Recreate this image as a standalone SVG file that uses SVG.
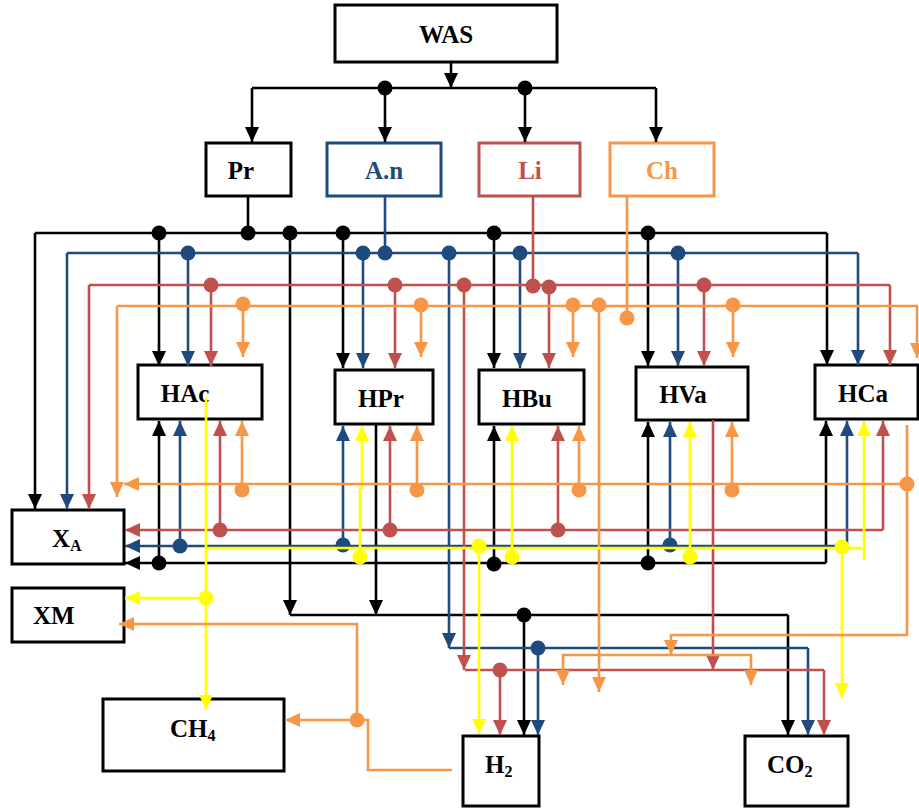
<svg xmlns="http://www.w3.org/2000/svg" width="919" height="808" viewBox="0 0 919 808">
  <defs>
    <style>
      .box { fill: #fff; stroke: #000; stroke-width: 3; }
      .lbl { font-family: "Liberation Serif", "Times New Roman", serif; font-weight: bold; font-size: 25px; fill: #000; }
      .c { text-anchor: middle; }
      .sub { font-size: 16px; }
      .ln { fill: none; stroke-width: 2.6; stroke-linejoin: miter; }
      .k { stroke: #000; }
      .b { stroke: #1F4A7E; }
      .r { stroke: #C0504D; }
      .o { stroke: #F79646; }
      .y { stroke: #FFFF00; }
      .k.a { marker-end: url(#ak); }
      .b.a { marker-end: url(#ab); }
      .r.a { marker-end: url(#ar); }
      .o.a { marker-end: url(#ao); }
      .y.a { marker-end: url(#ay); }
      .dk { fill: #000; }
      .db { fill: #1F4A7E; }
      .dr { fill: #C0504D; }
      .do { fill: #F79646; }
      .dy { fill: #FFFF00; }
    </style>
    <marker id="ak" markerUnits="userSpaceOnUse" markerWidth="15" markerHeight="14" refX="15" refY="7" orient="auto"><path d="M0,0 L15,7 L0,14 z" fill="#000"/></marker>
    <marker id="ab" markerUnits="userSpaceOnUse" markerWidth="15" markerHeight="14" refX="15" refY="7" orient="auto"><path d="M0,0 L15,7 L0,14 z" fill="#1F4A7E"/></marker>
    <marker id="ar" markerUnits="userSpaceOnUse" markerWidth="15" markerHeight="14" refX="15" refY="7" orient="auto"><path d="M0,0 L15,7 L0,14 z" fill="#C0504D"/></marker>
    <marker id="ao" markerUnits="userSpaceOnUse" markerWidth="15" markerHeight="14" refX="15" refY="7" orient="auto"><path d="M0,0 L15,7 L0,14 z" fill="#F79646"/></marker>
    <marker id="ay" markerUnits="userSpaceOnUse" markerWidth="15" markerHeight="14" refX="15" refY="7" orient="auto"><path d="M0,0 L15,7 L0,14 z" fill="#FFFF00"/></marker>
  </defs>

  <rect width="919" height="808" fill="#fff"/>

  <!-- boxes -->
  <g id="WAS"><rect class="box" x="335" y="5" width="222" height="57"/><text class="lbl c" x="446" y="43">WAS</text></g>
  <g id="Pr"><rect class="box" x="206" y="143" width="85" height="53"/><text class="lbl c" x="241" y="179">Pr</text></g>
  <g id="An"><rect class="box" x="327" y="143" width="114" height="53" style="stroke:#1F4A7E"/><text class="lbl c" x="384" y="179" style="fill:#1F4A7E">A.n</text></g>
  <g id="Li"><rect class="box" x="479" y="143" width="101" height="53" style="stroke:#C0504D"/><text class="lbl c" x="530" y="179" style="fill:#C0504D">Li</text></g>
  <g id="Ch"><rect class="box" x="610" y="143" width="104" height="53" style="stroke:#F79646"/><text class="lbl c" x="662" y="179" style="fill:#F79646">Ch</text></g>
  <g id="HAc"><rect class="box" x="138" y="365" width="124" height="54"/><text class="lbl c" x="185" y="402">HAc</text></g>
  <g id="HPr"><rect class="box" x="335" y="370" width="98" height="54"/><text class="lbl c" x="381" y="407">HPr</text></g>
  <g id="HBu"><rect class="box" x="479" y="370" width="105" height="54"/><text class="lbl c" x="527" y="407">HBu</text></g>
  <g id="HVa"><rect class="box" x="636" y="367" width="112" height="53"/><text class="lbl c" x="683" y="403">HVa</text></g>
  <g id="HCa"><rect class="box" x="815" y="365" width="103" height="54"/><text class="lbl c" x="863" y="402">HCa</text></g>
  <g id="XA"><rect class="box" x="12" y="510" width="112" height="54"/><text class="lbl" x="52" y="547">X<tspan class="sub" dy="4">A</tspan></text></g>
  <g id="XM"><rect class="box" x="12" y="588" width="112" height="54"/><text class="lbl" x="33" y="624">XM</text></g>
  <g id="CH4"><rect class="box" x="103" y="699" width="181" height="72"/><text class="lbl" x="170" y="737">CH<tspan class="sub" dy="4">4</tspan></text></g>
  <g id="H2"><rect class="box" x="463" y="736" width="76" height="70"/><text class="lbl" x="485" y="773">H<tspan class="sub" dy="4">2</tspan></text></g>
  <g id="CO2"><rect class="box" x="745" y="736" width="103" height="70"/><text class="lbl" x="767" y="773">CO<tspan class="sub" dy="4">2</tspan></text></g>

  <g id="connectors">
    <!-- black -->
    <path class="ln k a" d="M451,62 V88"/>
    <path class="ln k" d="M252,88 H656"/>
    <path class="ln k a" d="M252,88 V142"/>
    <path class="ln k a" d="M385,88 V142"/>
    <path class="ln k a" d="M525,88 V142"/>
    <path class="ln k a" d="M656,88 V142"/>
    <path class="ln k" d="M248,196 V233"/>
    <path class="ln k" d="M35,233 H827"/>
    <path class="ln k a" d="M35,233 V509"/>
    <path class="ln k a" d="M159,233 V366"/>
    <path class="ln k a" d="M343,233 V368"/>
    <path class="ln k a" d="M494,233 V368"/>
    <path class="ln k a" d="M648,233 V366"/>
    <path class="ln k a" d="M827,233 V365"/>
    <path class="ln k a" d="M290,233 V615"/>
    <path class="ln k a" d="M826,563 H125"/>
    <path class="ln k a" d="M826,563 V421"/>
    <path class="ln k a" d="M159,563 V421"/>
    <path class="ln k a" d="M494,563 V426"/>
    <path class="ln k a" d="M648,563 V422"/>
    <path class="ln k a" d="M376,424 V615"/>
    <path class="ln k" d="M290,615 H788"/>
    <path class="ln k a" d="M524,615 V735"/>
    <path class="ln k a" d="M788,615 V735"/>

    <!-- blue -->
    <path class="ln b" d="M385,196 V253"/>
    <path class="ln b" d="M67,253 H858"/>
    <path class="ln b a" d="M67,253 V509"/>
    <path class="ln b a" d="M188,253 V366"/>
    <path class="ln b a" d="M363,253 V368"/>
    <path class="ln b a" d="M449,253 V648"/>
    <path class="ln b a" d="M520,253 V368"/>
    <path class="ln b a" d="M678,253 V366"/>
    <path class="ln b a" d="M858,253 V365"/>
    <path class="ln b a" d="M847,546 H125"/>
    <path class="ln b a" d="M847,546 V421"/>
    <path class="ln b a" d="M180,546 V421"/>
    <path class="ln b a" d="M343,546 V426"/>
    <path class="ln b a" d="M670,546 V422"/>
    <path class="ln b" d="M449,648 H808"/>
    <path class="ln b a" d="M538,648 V735"/>
    <path class="ln b a" d="M808,648 V735"/>

    <!-- red -->
    <path class="ln r" d="M533,196 V286"/>
    <path class="ln r" d="M89,285 H890"/>
    <path class="ln r a" d="M89,285 V509"/>
    <path class="ln r a" d="M211,285 V366"/>
    <path class="ln r a" d="M395,285 V368"/>
    <path class="ln r a" d="M464,285 V670"/>
    <path class="ln r a" d="M549,285 V368"/>
    <path class="ln r a" d="M704,285 V366"/>
    <path class="ln r a" d="M890,285 V365"/>
    <path class="ln r a" d="M883,530 H125"/>
    <path class="ln r a" d="M883,530 V421"/>
    <path class="ln r a" d="M220,530 V421"/>
    <path class="ln r a" d="M390,530 V426"/>
    <path class="ln r a" d="M558,530 V426"/>
    <path class="ln r" d="M465,670 H824"/>
    <path class="ln r a" d="M500,670 V735"/>
    <path class="ln r a" d="M824,670 V735"/>
    <path class="ln r a" d="M713,420 V670"/>

    <!-- yellow -->
    <path class="ln y a" d="M206,398 V710"/>
    <path class="ln y a" d="M206,598 H125"/>
    <path class="ln y a" d="M360,557 V488 H362 V426"/>
    <path class="ln y a" d="M479,546 V734"/>
    <path class="ln y a" d="M512,557 V426"/>
    <path class="ln y a" d="M690,557 V422"/>
    <path class="ln y a" d="M842,547 V698"/>
    <path class="ln y a" d="M864,560 V421"/>

    <!-- orange -->
    <path class="ln o" d="M627,196 V318"/>
    <path class="ln o" d="M117,306 H918"/>
    <path class="ln o a" d="M117,306 V497"/>
    <path class="ln o a" d="M243,306 V357"/>
    <path class="ln o a" d="M421,306 V357"/>
    <path class="ln o a" d="M573,306 V357"/>
    <path class="ln o a" d="M599,306 V692"/>
    <path class="ln o a" d="M733,306 V357"/>
    <path class="ln o a" d="M917,306 V358"/>
    <path class="ln o a" d="M907,484 H124"/>
    <path class="ln o a" d="M242,490 V421"/>
    <path class="ln o a" d="M417,490 V426"/>
    <path class="ln o a" d="M579,490 V426"/>
    <path class="ln o a" d="M732,490 V422"/>
    <path class="ln o a" d="M907,425 V635 H671 V655"/>
    <path class="ln o a" d="M657,655 H563 V685"/>
    <path class="ln o a" d="M657,655 H751 V685"/>
    <path class="ln o" d="M452,770 H368 V720 H357"/>
    <path class="ln o a" d="M357,720 H285"/>
    <path class="ln o a" d="M357,720 V624 H119"/>

    <!-- junction dots -->
    <g class="dk">
      <circle cx="385" cy="88" r="7.5"/><circle cx="525" cy="88" r="7.5"/>
      <circle cx="159" cy="233" r="7.5"/><circle cx="248" cy="233" r="7.5"/><circle cx="290" cy="233" r="7.5"/>
      <circle cx="343" cy="233" r="7.5"/><circle cx="494" cy="233" r="7.5"/><circle cx="648" cy="233" r="7.5"/>
      <circle cx="159" cy="563" r="7.5"/><circle cx="494" cy="564" r="7.5"/><circle cx="648" cy="563" r="7.5"/>
      <circle cx="524" cy="615" r="7.5"/>
    </g>
    <g class="db">
      <circle cx="188" cy="253" r="7.5"/><circle cx="363" cy="253" r="7.5"/><circle cx="385" cy="253" r="7.5"/>
      <circle cx="449" cy="253" r="7.5"/><circle cx="520" cy="253" r="7.5"/><circle cx="678" cy="253" r="7.5"/>
      <circle cx="180" cy="546" r="7.5"/><circle cx="343" cy="545" r="7.5"/><circle cx="670" cy="545" r="7.5"/>
      <circle cx="538" cy="648" r="7.5"/>
    </g>
    <g class="dr">
      <circle cx="211" cy="285" r="7.5"/><circle cx="395" cy="285" r="7.5"/><circle cx="464" cy="285" r="7.5"/>
      <circle cx="533" cy="286" r="7.5"/><circle cx="549" cy="287" r="7.5"/><circle cx="704" cy="285" r="7.5"/>
      <circle cx="220" cy="530" r="7.5"/><circle cx="390" cy="530" r="7.5"/><circle cx="558" cy="530" r="7.5"/>
      <circle cx="500" cy="670" r="7.5"/>
    </g>
    <!-- yellow run just below the blue return line -->
    <path class="ln y" d="M206,548 H862"/>
    <g class="dy">
      <circle cx="206" cy="598" r="7.5"/><circle cx="360" cy="557" r="7.5"/><circle cx="479" cy="546" r="7.5"/>
      <circle cx="512" cy="557" r="7.5"/><circle cx="690" cy="557" r="7.5"/><circle cx="842" cy="547" r="7.5"/>
    </g>
    <g class="do">
      <circle cx="243" cy="304" r="7.5"/><circle cx="421" cy="305" r="7.5"/><circle cx="573" cy="305" r="7.5"/>
      <circle cx="599" cy="305" r="7.5"/><circle cx="627" cy="318" r="7.5"/><circle cx="733" cy="305" r="7.5"/>
      <circle cx="242" cy="490" r="7.5"/><circle cx="417" cy="490" r="7.5"/><circle cx="579" cy="490" r="7.5"/>
      <circle cx="732" cy="490" r="7.5"/><circle cx="907" cy="484" r="7.5"/>
      <circle cx="357" cy="720" r="7.5"/>
    </g>
  </g>
</svg>
